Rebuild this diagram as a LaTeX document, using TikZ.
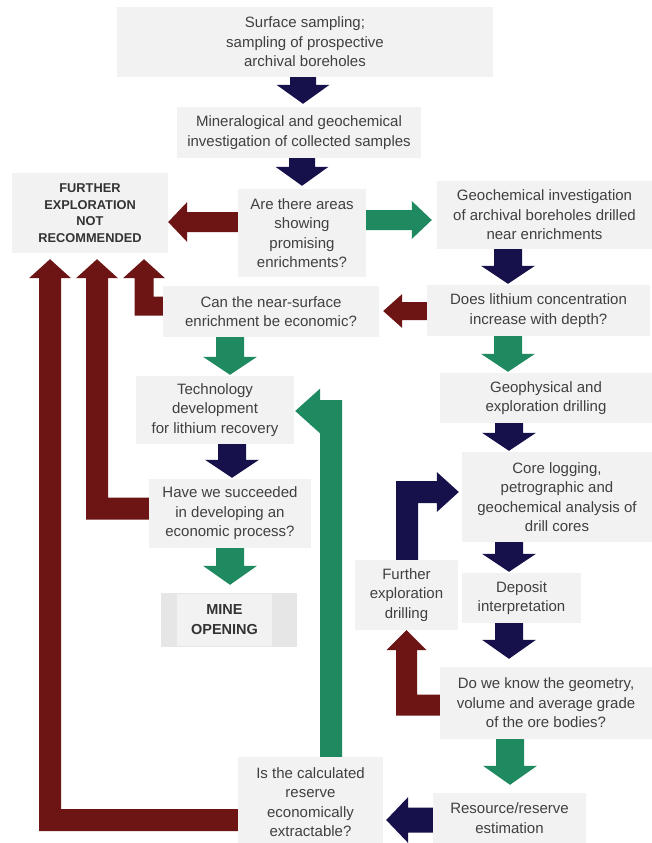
\documentclass[tikz,border=0pt]{standalone}
\usepackage{fontspec}
\setmainfont{Liberation Sans}
\usetikzlibrary{calc}
\definecolor{boxgray}{HTML}{F2F2F2}
\definecolor{minegray}{HTML}{E6E6E6}
\definecolor{txt}{HTML}{404040}
\definecolor{navy}{HTML}{16114A}
\definecolor{grn}{HTML}{1F8A5F}
\definecolor{dred}{HTML}{6D1414}
\newcommand\setarr[4]{\def\aSW{#1pt}\def\aHW{#2pt}\def\aHL{#3pt}\def\aGP{#4pt}}
% down arrow: color, x, from, to
\newcommand\darr[4]{%
 \fill[#1] let \p1=(#3.south), \p2=(#4.north) in
 (#2pt-\aSW,\y1) -- (#2pt+\aSW,\y1) -- (#2pt+\aSW,\y2+\aGP+\aHL) -- (#2pt+\aHW,\y2+\aGP+\aHL)
 -- (#2pt,\y2+\aGP) -- (#2pt-\aHW,\y2+\aGP+\aHL) -- (#2pt-\aSW,\y2+\aGP+\aHL) -- cycle;}
% left arrow: color, y, from, to
\newcommand\larr[4]{%
 \fill[#1] let \p1=(#3.west), \p2=(#4.east) in
 (\x1,-#2pt+\aSW) -- (\x2+\aGP+\aHL,-#2pt+\aSW) -- (\x2+\aGP+\aHL,-#2pt+\aHW) -- (\x2+\aGP,-#2pt)
 -- (\x2+\aGP+\aHL,-#2pt-\aHW) -- (\x2+\aGP+\aHL,-#2pt-\aSW) -- (\x1,-#2pt-\aSW) -- cycle;}
% right arrow: color, y, from, to
\newcommand\rarr[4]{%
 \fill[#1] let \p1=(#3.east), \p2=(#4.west) in
 (\x1,-#2pt+\aSW) -- (\x2-\aGP-\aHL,-#2pt+\aSW) -- (\x2-\aGP-\aHL,-#2pt+\aHW) -- (\x2-\aGP,-#2pt)
 -- (\x2-\aGP-\aHL,-#2pt-\aHW) -- (\x2-\aGP-\aHL,-#2pt-\aSW) -- (\x1,-#2pt-\aSW) -- cycle;}
% elbow: from west side at bar y, left to column x, then up: color, from, bar y, col x, to
\newcommand\elbowup[5]{%
 \fill[#1] let \p1=(#2.west), \p2=(#5.south) in
 (\x1,-#3pt+\aSW) -- (#4pt+\aSW,-#3pt+\aSW) -- (#4pt+\aSW,\y2-\aGP-\aHL) -- (#4pt+\aHW,\y2-\aGP-\aHL)
 -- (#4pt,\y2-\aGP) -- (#4pt-\aHW,\y2-\aGP-\aHL) -- (#4pt-\aSW,\y2-\aGP-\aHL)
 -- (#4pt-\aSW,-#3pt-\aSW) -- (\x1,-#3pt-\aSW) -- cycle;}
% elbow: up from north at col x to bar y, then right: color, from, col x, bar y, to
\newcommand\elbowright[5]{%
 \fill[#1] let \p1=(#2.north), \p2=(#5.west) in
 (#3pt-\aSW,\y1) -- (#3pt-\aSW,-#4pt+\aSW) -- (\x2-\aGP-\aHL,-#4pt+\aSW) -- (\x2-\aGP-\aHL,-#4pt+\aHW)
 -- (\x2-\aGP,-#4pt) -- (\x2-\aGP-\aHL,-#4pt-\aHW) -- (\x2-\aGP-\aHL,-#4pt-\aSW)
 -- (#3pt+\aSW,-#4pt-\aSW) -- (#3pt+\aSW,\y1) -- cycle;}
% elbow: up from north at col x to bar y, then left
\newcommand\elbowleft[5]{%
 \fill[#1] let \p1=(#2.north), \p2=(#5.east) in
 (#3pt+\aSW,\y1) -- (#3pt+\aSW,-#4pt+\aSW) -- (\x2+\aGP+\aHL,-#4pt+\aSW) -- (\x2+\aGP+\aHL,-#4pt+\aHW)
 -- (\x2+\aGP,-#4pt) -- (\x2+\aGP+\aHL,-#4pt-\aHW) -- (\x2+\aGP+\aHL,-#4pt-\aSW)
 -- (#3pt-\aSW,-#4pt-\aSW) -- (#3pt-\aSW,\y1) -- cycle;}
\begin{document}
\begin{tikzpicture}[x=1pt,y=-1pt,
 box/.style={fill=boxgray, draw=none, inner sep=0pt, align=center, text=txt,
   font=\fontsize{15}{19.5}\selectfont},
 boldbox/.style={box, font=\fontsize{12.8}{16.5}\selectfont\bfseries, text=black!80}]
\useasboundingbox (0,0) rectangle (652,843);
\fill[white] (0,0) rectangle (652,843);
% boxes
\node[box, minimum width=376pt, minimum height=70pt] (s1) at (305,42) {Surface sampling;\\sampling of prospective\\archival boreholes};
\node[box, minimum width=244pt, minimum height=51pt] (s2) at (299,132.5) {Mineralogical and geochemical\\investigation of collected samples};
\node[box, minimum width=128pt, minimum height=88pt] (s3) at (302,233) {Are there areas\\showing\\promising\\enrichments?};
\node[boldbox, minimum width=156pt, minimum height=80pt] (fnr) at (90,213) {FURTHER\\EXPLORATION\\NOT\\RECOMMENDED};
\node[box, minimum width=215pt, minimum height=68pt] (s4) at (544.5,215) {Geochemical investigation\\of archival boreholes drilled\\near enrichments};
\node[box, minimum width=216pt, minimum height=51pt] (s5) at (271,311.5) {Can the near-surface\\enrichment be economic?};
\node[box, minimum width=223pt, minimum height=51pt] (s6) at (538.5,310.5) {Does lithium concentration\\increase with depth?};
\node[box, minimum width=212pt, minimum height=50pt] (s7) at (546,398) {Geophysical and\\exploration drilling};
\node[box, minimum width=158pt, minimum height=68pt] (s8) at (215,410) {Technology\\development\\for lithium recovery};
\node[box, minimum width=162pt, minimum height=69pt] (s9) at (230,513.5) {Have we succeeded\\in developing an\\economic process?};
\node[box, fill=minegray, minimum width=136pt, minimum height=54pt] (mineo) at (229,620) {};
\node[boldbox, font=\fontsize{14.5}{20}\selectfont\bfseries, minimum width=95pt, minimum height=52pt] (mine) at (224.5,620) {MINE\\OPENING};
\node[box, minimum width=190pt, minimum height=90pt] (s10) at (557,497) {Core logging,\\petrographic and\\geochemical analysis of\\drill cores};
\node[box, minimum width=103pt, minimum height=70pt] (s11) at (406.5,595) {Further\\exploration\\drilling};
\node[box, minimum width=119pt, minimum height=50pt] (s12) at (521.5,598) {Deposit\\interpretation};
\node[box, minimum width=212pt, minimum height=72pt] (s13) at (546,703) {Do we know the geometry,\\volume and average grade\\of the ore bodies?};
\node[box, minimum width=145pt, minimum height=90pt] (s14) at (310.5,802) {Is the calculated\\reserve\\economically\\extractable?};
\node[box, minimum width=153pt, minimum height=50pt] (s15) at (509.5,818) {Resource/reserve\\estimation};
% straight down arrows
\setarr{13}{26.5}{19}{3}
\darr{navy}{303}{s1}{s2}
\darr{navy}{302}{s2}{s3}
\setarr{14}{27}{18}{1}
\darr{navy}{508}{s4}{s6}
\darr{grn}{508}{s6}{s7}
\darr{grn}{230}{s5}{s8}
\darr{navy}{232}{s8}{s9}
\darr{navy}{509}{s7}{s10}
\darr{navy}{509}{s10}{s12}
\setarr{14}{27}{19}{8}
\darr{grn}{230}{s9}{mineo}
\darr{navy}{509}{s12}{s13}
\darr{grn}{510}{s13}{s15}
% left / right arrows
\setarr{10}{20}{19}{0}
\larr{dred}{222}{s3}{fnr}
\setarr{9}{17}{19}{4}
\larr{dred}{311}{s6}{s5}
\setarr{12.5}{23}{22}{3}
\larr{navy}{820}{s15}{s14}
\setarr{10}{19}{20}{5}
\rarr{grn}{220}{s3}{s4}
% elbow arrows to FURTHER EXPLORATION NOT RECOMMENDED
\setarr{11}{21}{19}{6}
\elbowup{dred}{s14}{820}{50}{fnr}
\elbowup{dred}{s9}{508.5}{97}{fnr}
\setarr{9.5}{21}{19}{6}
\elbowup{dred}{s5}{306}{144}{fnr}
% loop arrows
\setarr{10.5}{20}{20}{0}
\elbowup{dred}{s13}{705}{406.5}{s11}
\setarr{11}{20}{22}{3}
\elbowright{navy}{s11}{407}{492}{s10}
\setarr{11}{22.5}{25}{1}
\elbowleft{grn}{s14}{331}{411}{s8}
\end{tikzpicture}
\end{document}
